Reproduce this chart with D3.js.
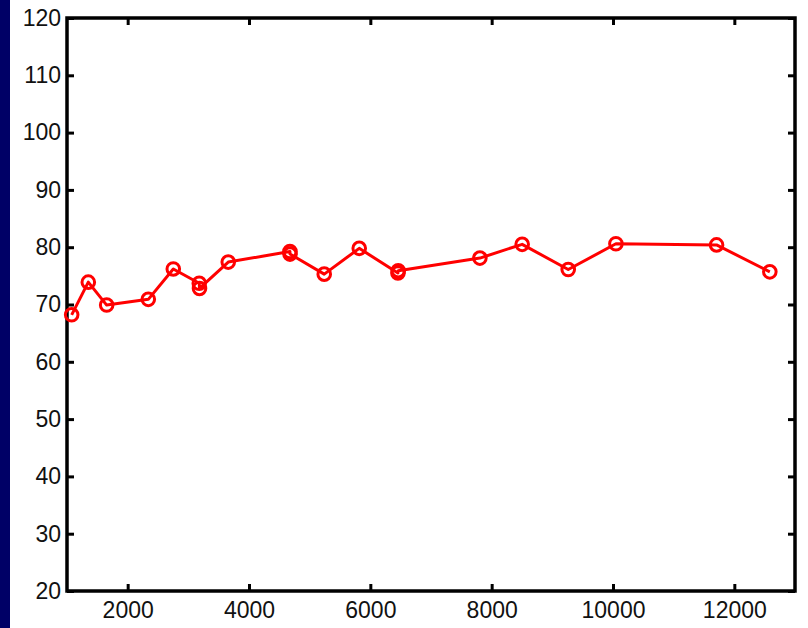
<!DOCTYPE html>
<html><head><meta charset="utf-8">
<script src="https://cdn.jsdelivr.net/npm/d3@7"></script>
<style>html,body{margin:0;padding:0;background:#fff;overflow:hidden}</style>
</head><body>
<svg id="c" width="808" height="628"></svg>
<script>
const xValues = [1077, 1351, 1654, 2340, 2752, 3180, 3184, 3658, 4675, 4676, 5240, 5817, 6455, 6460, 7806, 8503, 9262, 10048, 11707, 12585];
const yValues = [68.2, 73.9, 69.9, 70.9, 76.2, 73.7, 72.8, 77.4, 79.25, 78.8, 75.3, 79.8, 75.5, 75.9, 78.1, 80.5, 76.1, 80.6, 80.4, 75.7];
const xTicks = [2000, 4000, 6000, 8000, 10000, 12000];
const yTicks = [20, 30, 40, 50, 60, 70, 80, 90, 100, 110, 120];

const svg = d3.select("#c");
const L = 67, R = 795, T = 18, B = 591;
svg.append("rect").attr("x",0).attr("y",0).attr("width",10).attr("height",628).attr("fill","#000066");

const x = d3.scaleLinear().domain([1000, 13000]).range([L, R]);
const y = d3.scaleLinear().domain([20, 120]).range([B, T]);

const font = "Liberation Sans, Arial, sans-serif";
function style(g){
  g.select(".domain").remove();
  g.selectAll(".tick line").attr("stroke","#000").attr("stroke-width",3);
  g.selectAll(".tick text").attr("fill","#111").attr("font-family",font).attr("font-size",23);
}
svg.append("g").attr("transform",`translate(0,${B})`)
  .call(d3.axisBottom(x).tickValues(xTicks).tickSize(-7).tickPadding(11).tickFormat(d3.format("d")))
  .call(style);
svg.append("g").attr("transform",`translate(0,${T})`)
  .call(d3.axisTop(x).tickValues(xTicks).tickSize(-7).tickFormat(""))
  .call(style);
svg.append("g").attr("transform",`translate(${L},0)`)
  .call(d3.axisLeft(y).tickValues(yTicks).tickSize(-7).tickPadding(6).tickFormat(d3.format("d")))
  .call(style);
svg.append("g").attr("transform",`translate(${R},0)`)
  .call(d3.axisRight(y).tickValues(yTicks).tickSize(-7).tickFormat(""))
  .call(style);

svg.append("rect").attr("x",L).attr("y",T).attr("width",R-L).attr("height",B-T)
  .attr("fill","none").attr("stroke","#000").attr("stroke-width",3.5);

const pts = xValues.map((v,i)=>({x:v,y:yValues[i]}));
svg.append("path").datum(pts)
  .attr("fill","none").attr("stroke","#ff0000").attr("stroke-width",3).attr("stroke-linejoin","round")
  .attr("d", d3.line().x(d=>x(d.x)).y(d=>y(d.y)));
svg.selectAll("circle.m").data(pts).enter().append("circle").attr("class","m")
  .attr("cx",d=>x(d.x)).attr("cy",d=>y(d.y)).attr("r",6.3)
  .attr("fill","none").attr("stroke","#ff0000").attr("stroke-width",3);
</script>
</body></html>
